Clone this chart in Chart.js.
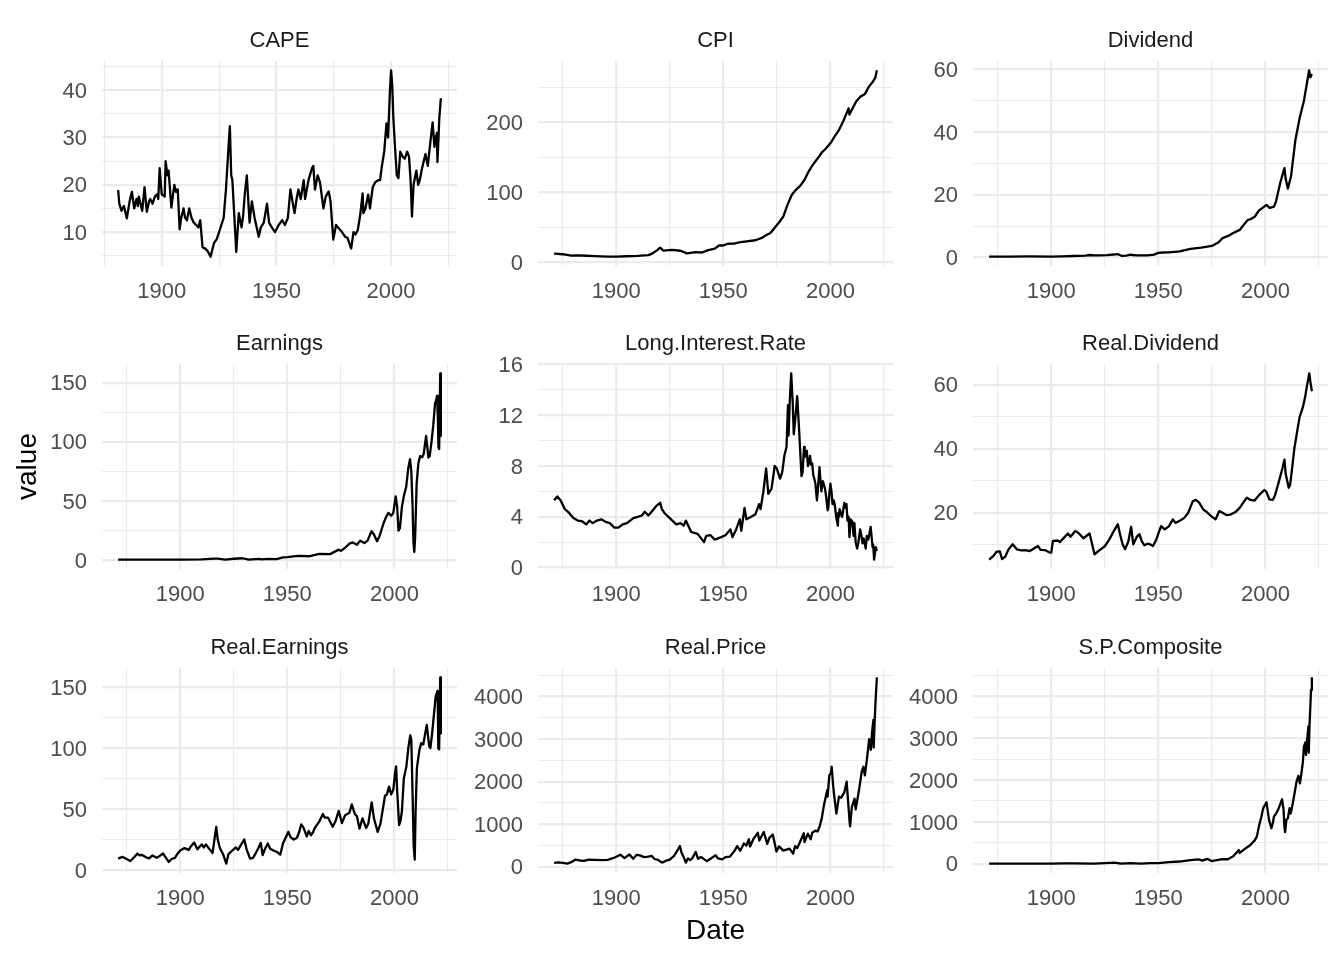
<!DOCTYPE html>
<html>
<head>
<meta charset="utf-8">
<script src="https://cdn.jsdelivr.net/npm/chart.js@4.4.1/dist/chart.umd.min.js"></script>
<style>
  html, body { margin: 0; padding: 0; background: #fff; }
  body { width: 1344px; height: 960px; position: relative; overflow: hidden; font-family: "Liberation Sans", Arial, sans-serif; }
  .panel { position: absolute; }
  .strip { position: absolute; text-align: center; font-size: 22px; line-height: 26px; color: #1a1a1a; white-space: nowrap; }
</style>
</head>
<body>
<script>
// Shiller series as [year, value]

const cape = [[1881,18.9],[1881.5,16],[1882.5,14.5],[1883.5,15.5],[1884.8,12.9],[1886,16.5],[1887,18.5],[1888,15],[1889,17],[1889.6,15.5],[1890,17.5],[1891.5,14.5],[1892.5,19.5],[1893.5,14.3],[1894.5,16.5],[1895,17],[1896,16],[1897,17.5],[1898,18],[1898.5,17],[1899.1,23.5],[1900,18],[1901.3,17.5],[1901.7,25],[1902.5,22],[1903,23],[1904.2,15.2],[1905.5,20],[1906.3,18.5],[1907,19],[1907.8,10.6],[1908.5,13],[1909.5,15],[1910.2,13],[1911,12.5],[1912,15],[1913,13],[1914,12],[1915,11.5],[1916,11],[1916.8,12.5],[1917.8,6.8],[1919,6.5],[1920,6],[1921.3,4.8],[1922.8,7.7],[1924,8.5],[1925,10],[1926,11.5],[1927,13],[1928,19],[1929,27],[1929.7,32.4],[1930.3,22],[1930.8,21],[1932.5,5.8],[1933.6,14],[1934.8,11],[1935.5,13.5],[1936.2,18],[1937.1,22],[1938.3,12],[1939.3,16.5],[1940.5,13],[1942.3,9],[1943.2,11],[1944.5,12],[1945.9,16],[1946.8,12],[1948,11],[1949.4,10],[1951,11.5],[1952.5,12.5],[1953.7,11.5],[1955,13],[1956.1,19],[1957,16.5],[1957.9,14],[1958.8,17],[1959.6,19],[1960.6,17],[1961.9,21],[1962.5,17],[1964,21],[1965.5,23.5],[1966.1,24],[1966.8,19],[1968,22],[1969,20.5],[1970.5,15],[1971.5,17.5],[1972.8,18.6],[1973.6,16.5],[1974.8,8.4],[1976,11.5],[1976.8,11],[1978.6,10],[1980,9],[1981,8.8],[1982.6,6.5],[1983.6,10],[1984.5,9.5],[1985.5,10.5],[1986.5,13.5],[1987.6,18.2],[1987.9,14],[1988.8,15],[1990,17.9],[1990.8,15],[1992,19.5],[1993,20.5],[1994.5,21],[1995.2,21],[1996,24],[1997,27],[1998,33],[1998.7,30],[1999.5,40],[2000,44.2],[2000.5,41],[2001,34],[2001.7,28],[2002.5,22],[2003.2,21.4],[2004,27],[2005,26],[2006,25.5],[2007,27],[2007.8,26],[2008.5,21],[2009.1,13.3],[2009.8,20],[2011,23],[2011.8,20],[2012.5,21],[2013.5,23.5],[2015,26.5],[2016,24],[2017,28.5],[2018.1,33.2],[2018.9,28],[2019.5,30],[2020,31],[2020.2,24.8],[2020.6,29],[2021,34],[2021.7,38.3]];

const cpi = [[1871,12.5],[1875,11.5],[1879,9.5],[1882,10],[1886,9.3],[1890,8.8],[1896,8],[1900,8.2],[1905,8.6],[1910,9.2],[1915,10.2],[1917,12.8],[1919,17],[1920.5,20.8],[1922,16.8],[1926,17.7],[1930,16.5],[1933,12.8],[1937,14.4],[1940,14],[1943,17.4],[1946,19.5],[1948,24],[1950,24],[1952,26.5],[1955,26.8],[1958,28.9],[1960,29.6],[1965,31.5],[1968,34.8],[1970,38.8],[1972,41.8],[1974,49.3],[1976,56.9],[1978,65.2],[1980,82.4],[1982,96.5],[1984,103.9],[1986,109.6],[1988,118.3],[1990,130.7],[1992,140.3],[1994,148.2],[1996,156.9],[1998,163],[2000,170],[2002,179.9],[2004,188.9],[2006,201.6],[2008.5,219.9],[2008.9,211],[2010,218],[2012,229.6],[2014,236.7],[2016,240],[2018,251],[2020,258.8],[2021,264],[2021.7,274.3]];

const dividend = [[1871,0.26],[1880,0.3],[1890,0.33],[1900,0.3],[1905,0.38],[1910,0.47],[1913,0.5],[1916,0.6],[1918,0.8],[1920,0.69],[1923,0.7],[1926,0.78],[1929,0.95],[1931,1.1],[1933,0.5],[1935,0.6],[1937,0.9],[1938,0.8],[1940,0.7],[1945,0.65],[1948,0.9],[1950,1.47],[1952,1.6],[1955,1.64],[1960,1.95],[1965,2.72],[1970,3.16],[1975,3.68],[1978,4.8],[1980,6.16],[1983,7],[1985,7.8],[1988,8.8],[1990,10.5],[1991.8,12],[1993,12.2],[1995,13],[1997,15],[1999,16],[2000.5,16.8],[2002,15.8],[2004,16.2],[2005,18],[2007,24],[2008.9,28.5],[2009.5,25],[2010.5,22],[2012,26],[2014,37.4],[2016,44.5],[2018,50],[2019.5,56],[2020.4,59.7],[2021,57.5],[2021.7,58.5]];

const earnings = [[1871,0.4],[1880,0.49],[1890,0.4],[1900,0.5],[1910,0.63],[1916,1.23],[1917.5,1.3],[1921,0.5],[1925,1.2],[1929,1.61],[1932,0.4],[1937,1.1],[1938,0.64],[1941,1.1],[1945,0.9],[1948,2.3],[1950,2.5],[1955,3.6],[1960,3.3],[1965,5.3],[1970,5.1],[1974,8.9],[1975,7.8],[1977,10.5],[1979,14],[1980.5,15],[1982.5,13],[1984,16.5],[1986,14.5],[1987.5,16.5],[1989.3,24.5],[1990.5,21.5],[1991.9,16],[1993,20],[1994.9,31],[1996,36],[1997.2,40],[1998.5,37.5],[1999.5,40],[2000.6,54],[2001.3,45],[2001.9,25],[2002.6,27],[2003.5,45],[2004.5,55],[2005.5,62],[2006.5,78],[2007.3,85.3],[2007.9,75],[2008.5,45],[2008.9,15],[2009.3,7],[2009.7,20],[2010.4,65],[2011.2,82],[2012,88],[2013,87],[2013.7,90],[2014.8,105],[2015.9,86.7],[2016.5,88],[2017.4,101],[2018.2,115],[2019,133],[2019.5,135],[2019.9,139],[2020.3,120],[2020.6,95],[2020.9,94],[2021.4,158],[2021.7,105]];

const longInterestRate = [[1871,5.3],[1872.5,5.6],[1874,5.3],[1876,4.6],[1878,4.3],[1880,3.9],[1882,3.7],[1884,3.65],[1886,3.4],[1887.5,3.7],[1889,3.5],[1891,3.7],[1893,3.8],[1895,3.6],[1897,3.5],[1899,3.15],[1901,3.15],[1903,3.4],[1905,3.5],[1908,3.9],[1910,4.0],[1912,4.1],[1913.3,4.4],[1915,4.1],[1917,4.5],[1919,4.9],[1920.5,5.1],[1921.3,4.6],[1922.5,4.3],[1925,3.9],[1928,3.4],[1930,3.5],[1931.5,3.3],[1932.5,3.7],[1935,2.8],[1938,2.65],[1941,2.0],[1942,2.5],[1944,2.55],[1946,2.2],[1949,2.4],[1951,2.55],[1953.3,3.0],[1954.3,2.4],[1956,3.0],[1957.7,3.8],[1958.4,2.9],[1959.9,4.7],[1960.8,3.8],[1963,4.0],[1965,4.2],[1966.7,5.0],[1967.4,4.6],[1968.7,6.0],[1970,7.8],[1971,5.8],[1972.5,6.2],[1974,8.0],[1975,7.8],[1976.5,7.0],[1977.5,7.5],[1978.5,8.8],[1979.5,9.5],[1980.2,12.8],[1980.5,10.4],[1981,13],[1981.7,15.3],[1982.4,13],[1982.9,10.5],[1983.5,11.5],[1984.5,13.5],[1985.5,10.5],[1986.5,7.2],[1987,7.5],[1987.7,9.5],[1988,8.7],[1988.5,9.1],[1989,9.2],[1989.5,8.0],[1990,8.2],[1990.5,8.8],[1991,8.1],[1991.5,8.2],[1992,7.3],[1992.5,7.0],[1993,6.6],[1993.7,5.3],[1994,5.8],[1994.9,7.9],[1995.3,7.0],[1995.8,6.0],[1996.2,6.6],[1996.5,6.8],[1997,6.5],[1997.5,6.2],[1998,5.6],[1998.7,4.5],[1999,4.7],[1999.5,5.8],[2000,6.6],[2000.5,6.0],[2001,5.0],[2001.5,5.3],[2002,5.0],[2002.8,3.9],[2003.5,3.3],[2003.7,4.3],[2004,4.0],[2004.3,4.6],[2005,4.2],[2005.5,4.0],[2006.5,5.1],[2007,4.7],[2007.5,5.0],[2008,3.7],[2008.5,4.0],[2008.9,2.4],[2009.5,3.8],[2010.3,3.6],[2010.8,2.5],[2011.2,3.5],[2011.8,2.0],[2012.5,1.5],[2013,1.9],[2013.9,3.0],[2014.5,2.5],[2015,1.9],[2015.5,2.3],[2016.5,1.5],[2017,2.5],[2017.7,2.2],[2018.8,3.2],[2019.7,1.6],[2020,1.8],[2020.4,0.62],[2021.2,1.6],[2021.7,1.3]];

const realDividend = [[1871,5.3],[1873,6.5],[1874.5,7.8],[1876,7.9],[1877,5.5],[1878.5,6.2],[1880,8.5],[1882,10.1],[1884,8.5],[1886,8.2],[1888,8.3],[1890,8],[1893.8,9.6],[1895,8.4],[1897,8.3],[1899,7.6],[1900,7.5],[1900.8,11.2],[1903,11.3],[1904,10.8],[1906,12.2],[1907.8,13.5],[1909,12.5],[1911.2,14.3],[1913,13.5],[1915,12],[1917.9,13.5],[1918.8,11],[1920.2,7],[1922,8],[1925,9.5],[1927,11.5],[1929,14],[1931.1,16.4],[1932.2,13],[1933.4,10],[1934.5,8.6],[1936,11],[1937.3,15.6],[1938.3,10.1],[1940,12.5],[1941.2,13.3],[1942.3,11],[1943.5,9.8],[1945,10.3],[1946.5,10],[1947.5,9.6],[1949,11.5],[1950.3,14],[1951.3,15.8],[1953,14.8],[1955,15.8],[1956.8,17.9],[1958,16.8],[1960,17.5],[1962,18.3],[1964,20],[1966.1,23.6],[1967.5,24],[1969,23.2],[1971,21],[1973,20],[1974.5,19],[1976.7,17.9],[1978.5,20.5],[1980,20],[1982,19.2],[1984,19.5],[1986,20.2],[1988,21.5],[1989.5,23],[1991.3,24.7],[1993,24],[1995,23.8],[1997,25.5],[1999.5,27.1],[2000.5,26.5],[2001.8,24.2],[2003.5,24],[2004.5,25.5],[2006,29],[2008,34],[2008.9,36.6],[2009.5,32],[2010.9,27.8],[2011.5,28.5],[2012.5,34],[2013.5,40],[2015.1,46.5],[2016,50],[2017.5,53],[2018.5,56],[2019.5,60],[2020.5,63.6],[2021,61],[2021.7,58]];

const realEarnings = [[1871,9.3],[1873,10.8],[1874.5,9.5],[1876.7,7.4],[1878.5,10.5],[1880,13.5],[1881,12],[1882,12.5],[1884,10.5],[1885.5,9.5],[1887,12],[1889,10],[1890,11],[1892,13.5],[1894.6,6.6],[1896,9],[1897.5,10],[1899,14],[1900,16],[1902,18],[1904,16.5],[1905,19.5],[1906.5,22.5],[1908,17],[1909,19],[1910,21],[1911,18.5],[1912,21],[1913,18.5],[1914,16.5],[1915.1,14],[1916.8,35.4],[1917.5,25],[1918.5,18],[1920,13],[1921.5,5.2],[1922.5,13],[1924,15.5],[1926,18.5],[1927,16.5],[1928.5,21],[1929.9,25],[1931,17],[1932.6,9.3],[1934,10],[1935,13],[1936.5,18],[1937.6,22.3],[1938.5,12.3],[1939.5,17],[1940.9,21.7],[1942,17.5],[1943.5,16],[1945,15],[1946.7,12.6],[1948,22],[1949.5,27.5],[1950.5,31.3],[1951.5,27],[1953,25],[1954.5,26.5],[1955.5,31],[1956.5,37.4],[1957.5,35],[1959.1,27.5],[1960,32],[1961,28.5],[1962,31],[1963,35],[1965,40],[1966.6,45.9],[1967.5,43],[1969,43],[1971.2,35.4],[1972.5,40],[1974,48.5],[1975.5,38.5],[1977,45],[1979,47],[1980.1,53.8],[1981.5,46],[1982.5,44],[1983.7,34],[1985.1,42.3],[1986.8,34.5],[1987.8,38],[1989.4,55.5],[1990.5,42],[1992.2,31.3],[1993.5,38],[1995.6,60.7],[1996.5,62],[1997.5,68.4],[1998.5,62],[1999.5,66],[2000.3,79.4],[2000.8,84.9],[2001.3,65],[2002.2,36.8],[2002.8,40],[2003.5,48],[2004.4,75],[2005.6,84.9],[2006.5,100],[2007.4,110.4],[2007.9,107],[2008.5,62],[2009,20],[2009.5,8.5],[2009.9,48],[2010.5,83.5],[2011.7,98.6],[2012.5,104],[2013.5,103],[2015.1,119],[2016.3,101],[2016.8,100],[2017.5,110],[2019.3,142.6],[2020.2,147],[2020.5,100],[2020.9,99],[2021.4,158],[2021.7,112]];

const realPrice = [[1871,94],[1873,105],[1875,95],[1877.2,75],[1879,110],[1881,172],[1883,150],[1885,140],[1887,170],[1890,165],[1893,160],[1896,165],[1899,215],[1902,285],[1903.8,205],[1906.2,290],[1907.9,190],[1909.5,280],[1911,270],[1913,230],[1915,240],[1916.5,260],[1917.9,185],[1919.5,165],[1920.9,115],[1921.6,100],[1923,140],[1925,170],[1927,260],[1928.5,380],[1929.7,490],[1930.5,330],[1931.5,230],[1932.5,100],[1933.5,200],[1934.5,160],[1935.5,200],[1937.1,350],[1938.2,190],[1939.5,230],[1940.5,200],[1942.3,135],[1944,190],[1946.4,272],[1947.5,200],[1949.5,175],[1951,230],[1953,240],[1955,360],[1956.5,487],[1957.9,380],[1959.6,550],[1960.8,500],[1961.9,650],[1962.5,480],[1964,650],[1966.1,800],[1966.8,620],[1968.9,820],[1970.5,540],[1971.5,680],[1973.1,760],[1974.8,360],[1976,480],[1978,380],[1980.9,430],[1982.6,310],[1983.5,490],[1984.5,440],[1985.5,550],[1987.6,790],[1987.9,580],[1989.5,780],[1990.8,650],[1991.5,800],[1993,850],[1994,830],[1995,950],[1996,1150],[1997,1450],[1998.5,1800],[1998.7,1650],[1999.5,2150],[2000.2,2200],[2000.6,2350],[2001.3,1900],[2001.7,1700],[2002.8,1250],[2004,1650],[2005,1620],[2006.5,1750],[2007.6,2000],[2008.9,1100],[2009.2,950],[2010,1400],[2011.3,1600],[2011.8,1350],[2012.5,1550],[2013.5,1850],[2014.7,2250],[2015.4,2350],[2016.1,2150],[2017,2500],[2018.1,3000],[2018.9,2750],[2019.4,3140],[2020.1,3450],[2020.2,2800],[2020.7,3450],[2021,3800],[2021.7,4450]];

const spComposite = [[1871,4.4],[1880,5.7],[1890,5.1],[1900,6.1],[1906,9.8],[1910,9.4],[1920,7],[1929.7,31],[1932.5,4.8],[1937,18],[1942,8],[1946,18],[1950,17],[1955,40],[1960,56],[1965,88],[1968.9,106],[1970.5,76],[1973,118],[1974.8,67],[1980,115],[1982.5,110],[1985,180],[1987.6,330],[1988,260],[1990,340],[1991,380],[1993,450],[1995,560],[1996,650],[1997,900],[1998,1100],[1999,1330],[2000.5,1470],[2001,1300],[2001.7,1050],[2002.8,850],[2003.5,980],[2004,1130],[2005,1200],[2006,1300],[2007.5,1500],[2007.8,1540],[2008.5,1280],[2008.9,880],[2009.2,760],[2009.8,1050],[2010.5,1090],[2011.3,1330],[2011.8,1200],[2012.5,1370],[2013.5,1650],[2014.5,1950],[2015.4,2100],[2016.1,1920],[2016.8,2150],[2017.5,2430],[2018,2800],[2018.7,2900],[2018.95,2600],[2019.5,2950],[2020.1,3280],[2020.25,2650],[2020.6,3300],[2020.95,3700],[2021.3,4150],[2021.7,4450]];

// axis breaks
const xBreaks = [1900, 1950, 2000];
const capeBreaks = [10, 20, 30, 40];
const cpiBreaks = [0, 100, 200];
const dividendBreaks = [0, 20, 40, 60];
const earningsBreaks = [0, 50, 100, 150];
const rateBreaks = [0, 4, 8, 12, 16];
const realDividendBreaks = [20, 40, 60];
const realEarningsBreaks = [0, 50, 100, 150];
const priceBreaks = [0, 1000, 2000, 3000, 4000];

const panels = [
  { title: 'CAPE', data: cape, breaks: capeBreaks },
  { title: 'CPI', data: cpi, breaks: cpiBreaks },
  { title: 'Dividend', data: dividend, breaks: dividendBreaks },
  { title: 'Earnings', data: earnings, breaks: earningsBreaks, yTitle: 'value' },
  { title: 'Long.Interest.Rate', data: longInterestRate, breaks: rateBreaks },
  { title: 'Real.Dividend', data: realDividend, breaks: realDividendBreaks },
  { title: 'Real.Earnings', data: realEarnings, breaks: realEarningsBreaks },
  { title: 'Real.Price', data: realPrice, breaks: priceBreaks, xTitle: 'Date' },
  { title: 'S.P.Composite', data: spComposite, breaks: priceBreaks }
];

// layout of the 3x3 grid (plot areas)
const COL_LEFT = [102, 538, 973];
const ROW_TOP = [61, 364, 668];
const PW = 355, PH = 205;
const PAD_TOP = 15;
const X_AXIS_H = 45;
const TICK_FONT = { family: 'Liberation Sans', size: 22 };
const GRID = '#ebebeb';

Chart.defaults.font.family = 'Liberation Sans';

function expand(lo, hi) {
  const d = (hi - lo) * 0.05;
  return [lo - d, hi + d];
}

// majors plus the half-way minors, kept inside the range
function gridTicks(breaks, lo, hi) {
  const step = breaks[1] - breaks[0];
  const ticks = breaks.map(v => ({ value: v, isMajor: true }));
  ticks.push({ value: breaks[0] - step / 2, isMajor: false });
  breaks.forEach(b => ticks.push({ value: b + step / 2, isMajor: false }));
  return ticks.filter(t => t.value >= lo && t.value <= hi).sort((a, b) => a.value - b.value);
}

function axis(breaks, lo, hi, isX, extra) {
  return Object.assign({
    type: 'linear',
    min: lo,
    max: hi,
    bounds: 'data',
    afterBuildTicks: s => { s.ticks = gridTicks(breaks, lo, hi); },
    ticks: {
      autoSkip: false,
      maxRotation: 0,
      padding: isX ? 13 : 15,
      labelOffset: isX ? 0 : 1.5,
      color: '#4d4d4d',
      font: TICK_FONT,
      callback: (v, i, ticks) => ticks[i].isMajor ? String(v) : ''
    },
    grid: {
      drawTicks: false,
      color: GRID,
      lineWidth: ctx => (ctx.tick && ctx.tick.isMajor) ? 2.2 : 1.1
    },
    border: { display: false }
  }, extra);
}

panels.forEach((p, i) => {
  const col = i % 3, row = Math.floor(i / 3);
  const yw = col === 0 ? 91 : 80;
  const xh = p.xTitle ? 75 : X_AXIS_H;
  const left = COL_LEFT[col] - yw;
  const top = ROW_TOP[row] - PAD_TOP;
  const w = yw + PW, h = PAD_TOP + PH + xh;

  const box = document.createElement('div');
  box.className = 'panel';
  box.style.left = left + 'px';
  box.style.top = top + 'px';
  box.style.width = w + 'px';
  box.style.height = h + 'px';
  const canvas = document.createElement('canvas');
  canvas.width = w;
  canvas.height = h;
  box.appendChild(canvas);
  document.body.appendChild(box);

  const xs = p.data.map(d => d[0]);
  const ys = p.data.map(d => d[1]);
  const [x0, x1] = expand(Math.min(...xs), Math.max(...xs));
  const [y0, y1] = expand(Math.min(...ys), Math.max(...ys));

  const xAxis = axis(xBreaks, x0, x1, true, {
    afterFit: s => { s.height = xh; s.paddingLeft = 0; s.paddingRight = 0; },
    title: p.xTitle ? { display: true, text: p.xTitle, color: '#000', font: { size: 28 }, padding: 0 } : { display: false }
  });
  const yAxis = axis(p.breaks, y0, y1, false, {
    afterFit: s => { s.width = yw; s.paddingTop = 0; s.paddingBottom = 0; },
    title: p.yTitle ? { display: true, text: p.yTitle, color: '#000', font: { size: 28 }, padding: 0 } : { display: false }
  });

  new Chart(canvas, {
    type: 'line',
    data: {
      datasets: [{
        label: p.title,
        data: p.data.map(d => ({ x: d[0], y: d[1] })),
        borderColor: '#000',
        borderWidth: 2.3,
        borderJoinStyle: 'round',
        pointRadius: 0,
        tension: 0,
        fill: false
      }]
    },
    options: {
      responsive: false,
      animation: false,
      events: [],
      layout: { padding: { top: PAD_TOP, left: 0, right: 0, bottom: 0 } },
      plugins: { legend: { display: false }, tooltip: { enabled: false } },
      scales: { x: xAxis, y: yAxis }
    }
  });

  const strip = document.createElement('div');
  strip.className = 'strip';
  strip.textContent = p.title;
  strip.style.left = COL_LEFT[col] + 'px';
  strip.style.width = PW + 'px';
  strip.style.top = (ROW_TOP[row] - 34) + 'px';
  document.body.appendChild(strip);
});
</script>
</body>
</html>
